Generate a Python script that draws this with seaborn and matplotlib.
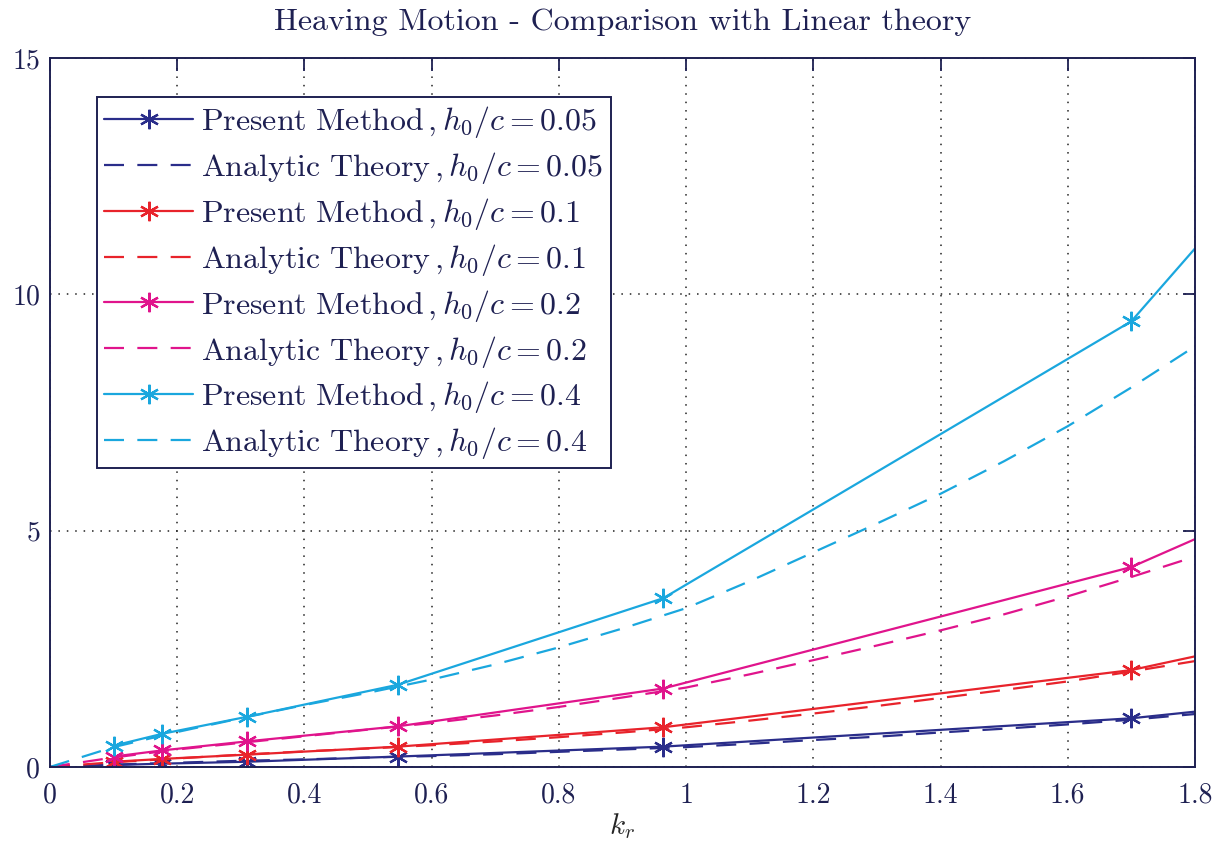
import numpy as np
import pandas as pd
import matplotlib
matplotlib.use("Agg")
import matplotlib.pyplot as plt
import seaborn as sns

# Present method: sampled reduced frequencies and computed amplitudes
kr_present = [0.100, 0.176, 0.309, 0.547, 0.964, 1.700, 1.800]
present_005 = [0.04, 0.07, 0.11, 0.22, 0.43, 1.03, 1.17]
present_010 = [0.11, 0.17, 0.26, 0.43, 0.84, 2.05, 2.34]
present_020 = [0.22, 0.35, 0.54, 0.86, 1.66, 4.23, 4.82]
present_040 = [0.45, 0.70, 1.06, 1.74, 3.57, 9.43, 10.97]

# Analytic (linear) theory curves
kr_theory = [0.0, 0.1, 0.2, 0.3, 0.4, 0.5, 0.6, 0.7, 0.8, 0.9,
             1.0, 1.1, 1.2, 1.3, 1.4, 1.5, 1.6, 1.7, 1.8]
theory_005 = [0.0, 0.05, 0.09, 0.13, 0.16, 0.20, 0.23, 0.27, 0.32, 0.37,
              0.42, 0.49, 0.57, 0.64, 0.73, 0.81, 0.90, 1.00, 1.12]
theory_010 = [0.0, 0.10, 0.18, 0.26, 0.33, 0.39, 0.46, 0.54, 0.63, 0.73,
              0.84, 0.98, 1.13, 1.29, 1.46, 1.63, 1.81, 2.02, 2.24]
theory_020 = [0.0, 0.20, 0.37, 0.51, 0.65, 0.79, 0.93, 1.09, 1.27, 1.47,
              1.68, 1.96, 2.26, 2.57, 2.89, 3.23, 3.61, 4.02, 4.45]
theory_040 = [0.0, 0.42, 0.74, 1.03, 1.31, 1.57, 1.85, 2.17, 2.53, 2.93,
              3.36, 3.93, 4.54, 5.15, 5.78, 6.47, 7.21, 8.03, 8.90]

ratios = ["0.05", "0.1", "0.2", "0.4"]
colors = ["#2a2d8a", "#e8232b", "#e0148c", "#1aa7de"]
present_sets = [present_005, present_010, present_020, present_040]
theory_sets = [theory_005, theory_010, theory_020, theory_040]

x_ticks = [0, 0.2, 0.4, 0.6, 0.8, 1, 1.2, 1.4, 1.6, 1.8]
x_ticklabels = ["0", "0.2", "0.4", "0.6", "0.8", "1", "1.2", "1.4", "1.6", "1.8"]
y_ticks = [0, 5, 10, 15]

sns.set_theme(style="white")
ink = "#1e2052"
plt.rcParams.update({
    "font.family": ["cmr10"],
    "mathtext.fontset": "cm",
    "axes.formatter.use_mathtext": True,
    "axes.edgecolor": ink,
    "axes.linewidth": 1.4,
    "text.color": ink,
    "xtick.color": ink,
    "ytick.color": ink,
})

fig = plt.figure(figsize=(12.25, 8.43), dpi=100)
ax = fig.add_axes([0.0408, 0.0902, 0.9347, 0.8410])

asterisk = (6, 2, 0)
for ratio, col, pres, theo in zip(ratios, colors, present_sets, theory_sets):
    df_p = pd.DataFrame({"kr": kr_present, "amp": pres})
    df_t = pd.DataFrame({"kr": kr_theory, "amp": theo})
    sns.lineplot(data=df_p, x="kr", y="amp", ax=ax, color=col, lw=1.6,
                 marker=asterisk, markersize=14, markeredgewidth=1.6,
                 markeredgecolor=col, markevery=list(range(len(pres) - 1)),
                 label=r"$\mathrm{Present\ Method}\,, h_0/c = %s$" % ratio)
    sns.lineplot(data=df_t, x="kr", y="amp", ax=ax, color=col, lw=1.6,
                 linestyle=(0, (9, 6)),
                 label=r"$\mathrm{Analytic\ Theory}\,, h_0/c = %s$" % ratio)

ax.set_xlim(0, 1.8)
ax.set_ylim(0, 15)
ax.set_xticks(x_ticks)
ax.set_xticklabels(x_ticklabels)
ax.set_yticks(y_ticks)
ax.tick_params(axis="both", direction="in", length=9, width=1.3,
               top=True, right=True, labelsize=20)
ax.tick_params(axis="x", pad=11)
ax.tick_params(axis="y", pad=7)
ax.grid(True, linestyle=(0, (1, 4.5)), color="#222222", linewidth=1.1)
for s in ax.spines.values():
    s.set_visible(True)

ax.set_xlabel(r"$k_r$", fontsize=21, labelpad=2)
ax.set_ylabel("")
ax.set_title("Heaving Motion - Comparison with Linear theory",
             fontsize=23, pad=20)

leg = ax.legend(loc="upper left", bbox_to_anchor=(0.041, 0.945),
                borderaxespad=0, fontsize=23, handlelength=2.8,
                handletextpad=0.25, labelspacing=0.31, borderpad=0.22,
                fancybox=False, framealpha=1, edgecolor=ink)
leg.get_frame().set_linewidth(1.4)

fig.savefig("out.png", dpi=100)
